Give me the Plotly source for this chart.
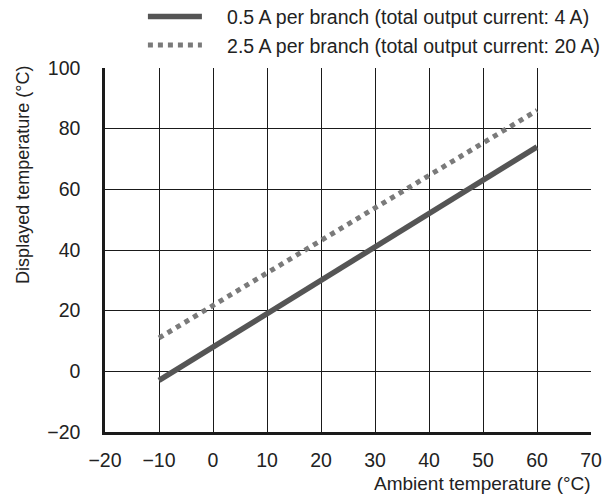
import plotly.graph_objects as go

# Data
ambient = [-10, 60]
low_current = [-3, 74]      # 0.5 A per branch
high_current = [11, 86]     # 2.5 A per branch
series_names = ["0.5 A per branch (total output current: 4 A)",
                "2.5 A per branch (total output current: 20 A)"]
x_ticks = [-20, -10, 0, 10, 20, 30, 40, 50, 60, 70]
y_ticks = [-20, 0, 20, 40, 60, 80, 100]

FONT = "Liberation Sans, Arial, sans-serif"
TXT = "#222222"
GAP = "\u00a0\u00a0\u00a0\u2009"

def lab(v):
    return ("\u2212" + str(abs(v))) if v < 0 else str(v)

fig = go.Figure()
fig.add_trace(go.Scatter(x=ambient, y=low_current, mode="lines", name=GAP + series_names[0],
                         line=dict(color="#555555", width=5.5)))
fig.add_trace(go.Scatter(x=ambient, y=high_current, mode="lines", name=GAP + series_names[1],
                         line=dict(color="#7a7a7a", width=5, dash="dot")))

fig.update_layout(
    width=602, height=495,
    margin=dict(l=105, r=11, t=68, b=63, autoexpand=False),
    paper_bgcolor="white", plot_bgcolor="white",
    font=dict(family=FONT, color=TXT, size=18),
    showlegend=True,
    legend=dict(x=0.078, y=1.194, xanchor="left", yanchor="top",
                bgcolor="rgba(0,0,0,0)", itemwidth=54,
                traceorder="normal",
                font=dict(size=19.5, color=TXT)),
    xaxis=dict(range=[-20, 70], tickvals=x_ticks, ticktext=[lab(v) for v in x_ticks],
               showgrid=True, gridcolor="#1a1a1a", gridwidth=1, zeroline=False,
               showline=True, linecolor="#1a1a1a", linewidth=2.5,
               ticks="outside", ticklen=9, tickcolor="rgba(0,0,0,0)",
               tickfont=dict(size=19.5, color=TXT)),
    yaxis=dict(range=[-20, 100], tickvals=y_ticks, ticktext=[lab(v) for v in y_ticks],
               showgrid=True, gridcolor="#1a1a1a", gridwidth=1, zeroline=False,
               showline=True, linecolor="#1a1a1a", linewidth=2.5,
               ticks="outside", ticklen=18, tickcolor="rgba(0,0,0,0)",
               tickfont=dict(size=19.5, color=TXT)),
    annotations=[
        dict(text="Ambient temperature (\u00b0C)", xref="paper", yref="paper",
             x=1.004, y=-0.141, xanchor="right", yanchor="middle", showarrow=False,
             font=dict(size=19, color=TXT)),
        dict(text="Displayed temperature (\u00b0C)", xref="paper", yref="paper",
             x=-0.169, y=0.706, xanchor="center", yanchor="middle", textangle=-90,
             showarrow=False, font=dict(size=18, color=TXT)),
    ],
)

fig.write_html("out.html",
               config={"displayModeBar": False},
               post_script="document.body.style.margin='0';document.body.style.overflow='hidden';")
